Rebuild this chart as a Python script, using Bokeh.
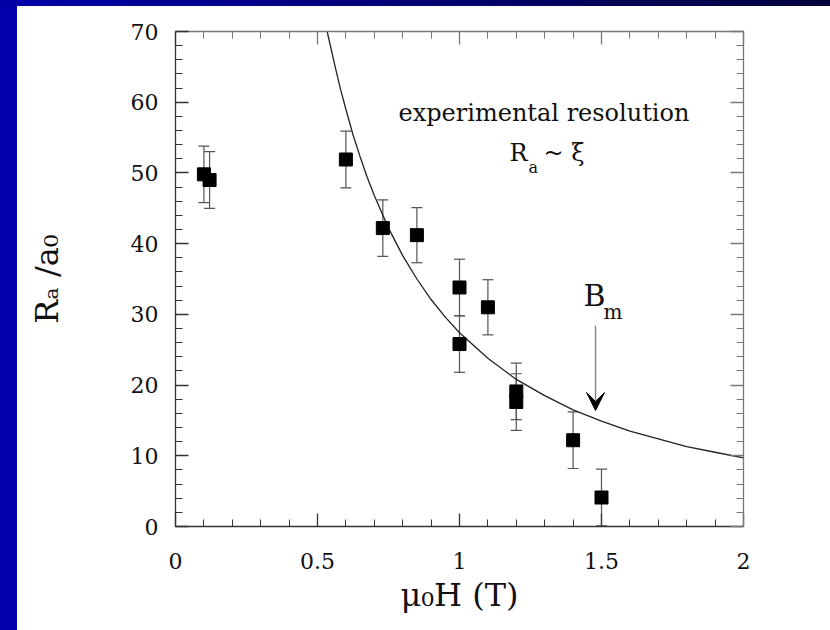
import math
from bokeh.plotting import figure
from bokeh.models import (Range1d, LinearAxis, FixedTicker, Whisker, TeeHead,
                          ColumnDataSource, Label, Arrow, VeeHead, Spacer)
from bokeh.layouts import row, column
from bokeh.embed import file_html
from bokeh.resources import INLINE

# ---- data ----
field_T = [0.10, 0.12, 0.60, 0.73, 0.85, 1.00, 1.00, 1.10, 1.20, 1.20, 1.40, 1.50]
ratio = [49.8, 49.0, 51.9, 42.2, 41.2, 33.8, 25.8, 31.0, 19.1, 17.6, 12.2, 4.1]
err = [4.0, 4.0, 4.0, 4.0, 3.9, 4.0, 4.0, 3.9, 4.0, 4.0, 4.0, 4.0]

curve_x = [0.534, 0.56, 0.58, 0.60, 0.625, 0.65, 0.675, 0.70, 0.75, 0.80, 0.85,
           0.90, 0.95, 1.00, 1.10, 1.20, 1.30, 1.40, 1.50, 1.60, 1.70, 1.80,
           1.90, 2.00]
curve_y = [70.0, 65.4, 62.0, 59.0, 55.4, 52.3, 49.4, 46.8, 42.2, 38.3, 35.0,
           32.1, 29.6, 27.4, 23.8, 20.8, 18.5, 16.5, 14.9, 13.5, 12.4, 11.3,
           10.5, 9.7]

x_major = [0, 0.5, 1, 1.5, 2]
x_labels = ["0", "0.5", "1", "1.5", "2"]
x_minor = [round(0.1 * i, 2) for i in range(21)]
y_major = [0, 10, 20, 30, 40, 50, 60, 70]
y_labels = ["0", "10", "20", "30", "40", "50", "60", "70"]
y_minor = [2 * i for i in range(36)]

x_title = "μ₀H (T)"
y_title = "Rₐ /a₀"

FONT = "DejaVu Serif"
OX, OY = 17, 6   # page offset of the figure

p = figure(width=813, height=624, output_backend="svg", toolbar_location=None,
           x_range=Range1d(0, 2), y_range=Range1d(0, 70),
           min_border_left=175 - OX, min_border_right=830 - 743,
           min_border_top=31 - OY, min_border_bottom=630 - 526,
           background_fill_color="white", border_fill_color="white")
p.outline_line_color = None
p.xgrid.visible = False
p.ygrid.visible = False


def style_axis(ax, ticks, minor, labels, show, color, standoff):
    ax.ticker = FixedTicker(ticks=ticks, minor_ticks=minor)
    ax.major_tick_in = 13
    ax.major_tick_out = 0
    ax.minor_tick_in = 7
    ax.minor_tick_out = 0
    ax.axis_line_color = color
    ax.major_tick_line_color = color
    ax.minor_tick_line_color = color
    ax.axis_line_width = 1.3
    ax.major_tick_line_width = 1.3
    ax.minor_tick_line_width = 1
    if show:
        ax.major_label_overrides = {t: l for t, l in zip(ticks, labels)}
        ax.major_label_text_font = FONT
        ax.major_label_text_font_size = "22px"
        ax.major_label_text_color = "#111111"
        ax.major_label_standoff = standoff
    else:
        ax.major_label_overrides = {t: "" for t in ticks}
        ax.major_label_text_font_size = "1px"
        ax.major_label_standoff = 0


style_axis(p.xaxis[0], x_major, x_minor, x_labels, True, "#333333", 26)
style_axis(p.yaxis[0], y_major, y_minor, y_labels, True, "#333333", 17)

for ax, title, standoff in ((p.xaxis[0], x_title, 4), (p.yaxis[0], y_title, 62)):
    ax.axis_label = title
    ax.axis_label_text_font = FONT
    ax.axis_label_text_font_size = "32px"
    ax.axis_label_text_font_style = "normal"
    ax.axis_label_text_color = "#111111"
    ax.axis_label_standoff = standoff

top = LinearAxis()
style_axis(top, x_major, x_minor, x_labels, False, "#777777", 0)
p.add_layout(top, "above")
right = LinearAxis()
style_axis(right, y_major, y_minor, y_labels, False, "#777777", 0)
p.add_layout(right, "right")

# fitted curve
p.line(curve_x, curve_y, line_color="#222222", line_width=1.3)

# error bars and points
src = ColumnDataSource(dict(x=field_T, y=ratio,
                            upper=[v + e for v, e in zip(ratio, err)],
                            lower=[v - e for v, e in zip(ratio, err)]))
wh = Whisker(base="x", upper="upper", lower="lower", source=src,
             line_color="#555555", line_width=1.2,
             upper_head=TeeHead(size=11, line_color="#555555", line_width=1.2),
             lower_head=TeeHead(size=11, line_color="#555555", line_width=1.2))
p.add_layout(wh)
p.scatter("x", "y", source=src, marker="square", size=13,
          fill_color="black", line_color="black")


def X(px):
    return (px - 175) / 284.0


def Y(py):
    return (526 - py) / 7.0714


def lab(text, px, py, size, angle=0.0):
    p.add_layout(Label(x=X(px), y=Y(py), text=text, text_font=FONT,
                       text_font_size=size, text_color="#111111",
                       text_align="left", text_baseline="alphabetic",
                       angle=angle))


# annotation texts
lab("experimental resolution", 398, 113, "24px")
lab("R", 509, 153, "24px")
lab("a", 528, 167, "16px")
lab("~ ξ", 543, 153, "24px")
lab("B", 583, 295, "30px")
lab("m", 603, 312, "20px")

# arrow to B_m
p.add_layout(Arrow(x_start=1.479, y_start=28.4, x_end=1.479, y_end=16.4,
                   line_color="#888888", line_width=1.5,
                   end=VeeHead(size=18, fill_color="black", line_color="black")))

top_strip = Spacer(width=830, height=OY,
                   styles={"background": "linear-gradient(to right, #0000aa, #00003c)"})
left_strip = Spacer(width=OX, height=630 - OY, styles={"background-color": "#0000aa"})
page = column(top_strip, row(left_strip, p, spacing=0), spacing=0)

open("out.html", "w").write(file_html(page, INLINE))
